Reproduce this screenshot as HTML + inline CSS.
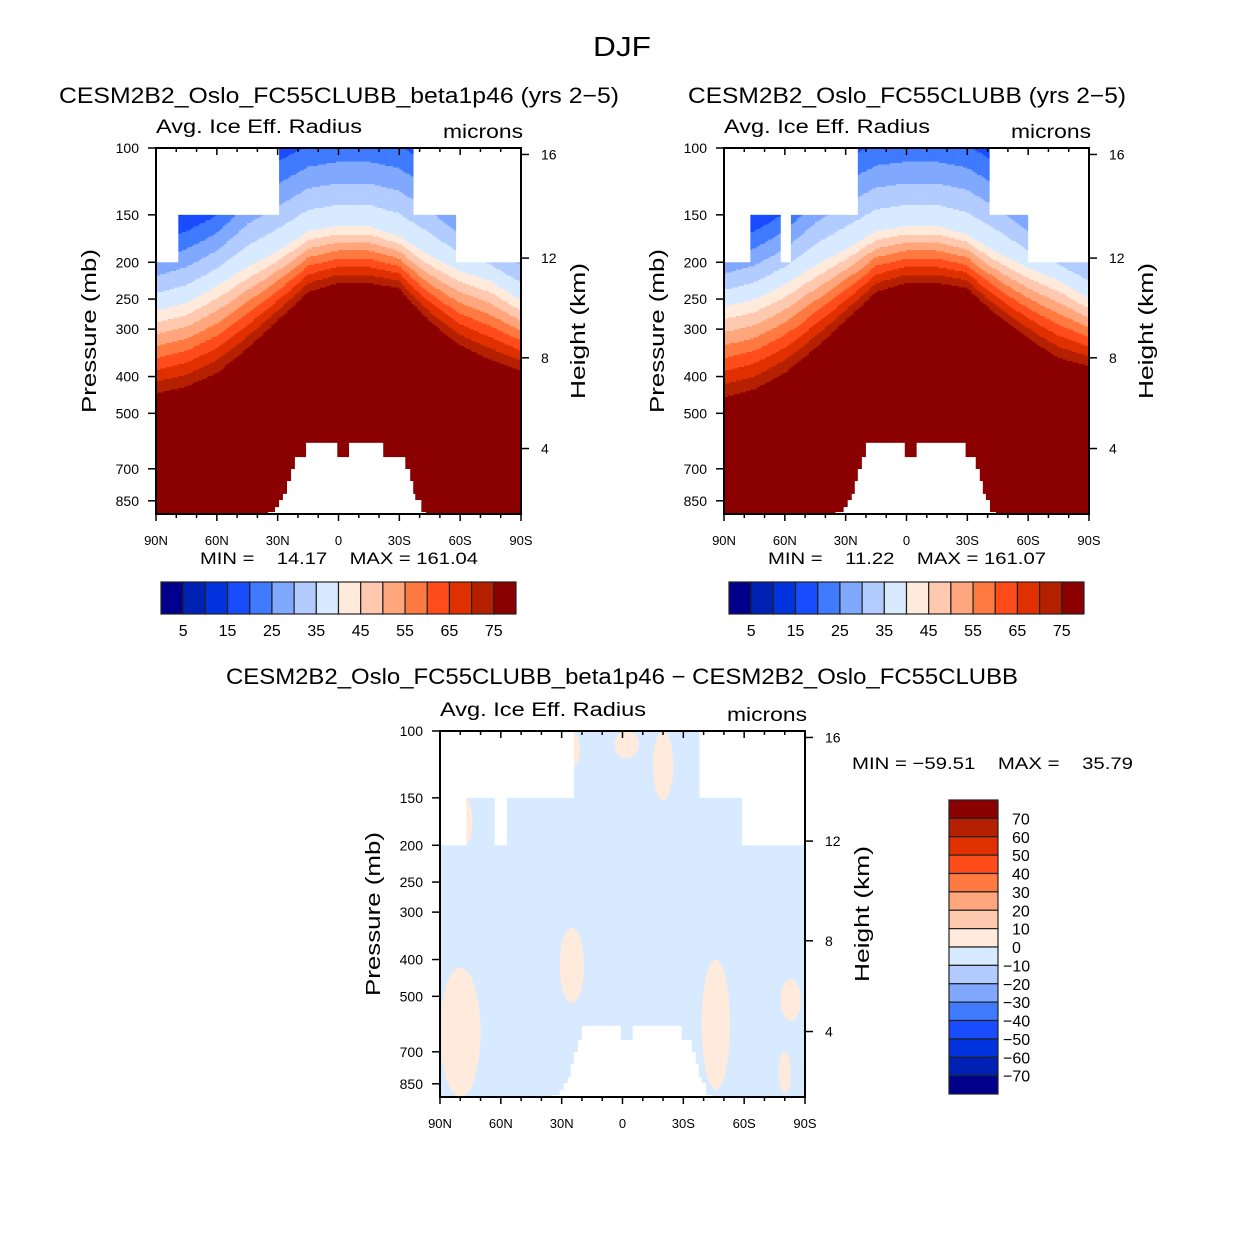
<!DOCTYPE html>
<html><head><meta charset="utf-8">
<style>
html,body{margin:0;padding:0;background:#fff;}
svg{display:block;font-family:"Liberation Sans",sans-serif;}
</style></head>
<body>
<svg id="fig" width="1246" height="1248" viewBox="0 0 1246 1248" xmlns="http://www.w3.org/2000/svg">
<rect width="1246" height="1248" fill="#fff"/>
<text x="622" y="56" font-size="28" text-anchor="middle" textLength="58" lengthAdjust="spacingAndGlyphs">DJF</text>
</svg>
<script>
// ---------- data ----------
const colors = ["#00008c","#0022b4","#0033dd","#1a4cff","#3f7aff","#80a8ff","#b3ccff","#d8eaff","#ffeadb","#ffc9b0","#ffa67c","#ff7a40","#ff4c1a","#e03000","#b52000","#8b0000"];
const levelLabels = [5,15,25,35,45,55,65,75];
const diffLabels = [70,60,50,40,30,20,10,0,-10,-20,-30,-40,-50,-60,-70];
const pTicks = [100,150,200,250,300,400,500,700,850];
const latTicks = [90,60,30,0,-30,-60,-90];
const latTickLabels = ["90N","60N","30N","0","30S","60S","90S"];
const heightTicks = [16,12,8,4];
const heightTickP = [104,195,357,619];

const profLats = [90,75,60,45,30,15,0,-15,-30,-45,-60,-75,-90];
// left panel (beta1p46)
const leftP20 = [175,165,150,122,108,98,95,95,98,110,135,150,162];
const leftP40 = [267,255,230,205,186,165,160,160,170,191,210,223,251];
const leftP80 = [475,455,421,360,301,251,237,237,244,301,351,385,408];
// right panel (control)
const rightP20 = [175,165,148,121,106,97,95,95,98,109,133,150,160];
const rightP40 = [260,250,228,203,184,165,160,160,168,188,206,222,248];
const rightP80 = [489,465,421,360,301,251,237,237,244,290,335,380,396];
// missing-data masks aloft: [north lat, south lat, pressure limit]
const leftMaskN = [90,90,-37,-58], leftMaskS = [29.3,79,-90,-90], leftMaskP = [150,200,150,200];
const rightMaskN = [90,90,62,-41,-60], rightMaskS = [24,77,57,-90,-90], rightMaskP = [150,200,200,150,200];
const diffMaskN = [90,90,63,-38,-59], diffMaskS = [24,77,57,-90,-90], diffMaskP = [150,200,200,150,200];
// surface (terrain) segments: north lat, south lat, surface pressure
const leftSurfN = [34.8,31.3,29.3,27.4,25.4,23.4,21.5,16,0.75,-5.2,-21.9,-32.8,-35.2,-36.7,-37.7,-40.7];
const leftSurfS = [31.3,29.3,27.4,25.4,23.4,21.5,16,0.75,-5.2,-21.9,-32.8,-35.2,-36.7,-37.7,-40.7,-43];
const leftSurfP = [910,883,846,815,754,701,652,598,652,598,652,701,754,815,846,910];
const rightSurfN = [35,31,29,27,25.5,24,22,20,1,-5,-29,-34,-36,-37.5,-39,-41];
const rightSurfS = [31,29,27,25.5,24,22,20,1,-5,-29,-34,-36,-37.5,-39,-41,-44];
const rightSurfP = [910,883,846,815,754,701,652,598,652,598,652,701,754,815,846,910];
// difference panel: positive (cream) patches
const patchLat = [80,25,15,25,-20,-46,-83,-80,78,-2];
const patchHalfW = [10,6,4,4,5,7,5,3,4,6];
const patchPtop = [420,330,600,100,100,400,450,700,150,100];
const patchPbot = [920,520,650,125,152,880,580,900,200,118];

// ---------- helpers ----------
const NS="http://www.w3.org/2000/svg";
const svg=document.getElementById('fig');
function mk(tag,attrs,parent){const e=document.createElementNS(NS,tag);for(const k in attrs)e.setAttribute(k,attrs[k]);(parent||svg).appendChild(e);return e;}
function txt(s,attrs,parent){const e=mk('text',attrs,parent);e.textContent=s;return e;}
function interp(xs,ys,x){for(let i=0;i<xs.length-1;i++){const a=xs[i],b=xs[i+1];if((x<=a&&x>=b)){const t=(a-x)/(a-b);return ys[i]+(ys[i+1]-ys[i])*t;}}return x>xs[0]?ys[0]:ys[ys.length-1];}
const W=365,H=366,K=379.6;

function panel(ox,oy,cfg){
  const g=mk('g',{});
  
  
  const xL=lat=>ox+(90-lat)/180*W;
  const yP=p=>oy+K*Math.log10(p/100);
  const clipId='clip'+cfg.name;
  const cp=mk('clipPath',{id:clipId},g);mk('rect',{x:ox,y:oy,width:W,height:H},cp);
  const field=mk('g',{'clip-path':'url(#'+clipId+')'},g);
  
  
  if(cfg.p20){
    for(let lat=90;lat>-90;lat-=1){
      const lc=lat-0.5;
      const y20=yP(interp(profLats,cfg.p20,lc)),y40=yP(interp(profLats,cfg.p40,lc)),y80=yP(interp(profLats,cfg.p80,lc));
      const val=y=>y<y40?40-20*(y40-y)/(y40-y20):40+40*(y-y40)/(y80-y40);
      let runStart=oy,runIdx=-1;
      for(let y=oy;y<=oy+H+2;y+=1.5){
        const idx=Math.max(0,Math.min(15,Math.floor(val(y)/5)));
        if(idx!==runIdx){
          if(runIdx>=0){const r=mk('rect',{x:xL(lat)-0.2,y:runStart,width:W/180+0.4,height:y-runStart+0.5,fill:colors[runIdx]},field);}
          runStart=y;runIdx=idx;
        }
      }
      const r=mk('rect',{x:xL(lat)-0.2,y:runStart,width:W/180+0.4,height:oy+H-runStart+2,fill:colors[runIdx]},field);
      
    }
  } else {
    mk('rect',{x:ox,y:oy,width:W,height:H,fill:colors[7]},field);
    for(let i=0;i<patchLat.length;i++){
      const yt=yP(patchPtop[i]),yb=yP(patchPbot[i]);
      const e=mk('ellipse',{cx:xL(patchLat[i]),cy:(yt+yb)/2,rx:patchHalfW[i]*W/180,ry:(yb-yt)/2,fill:colors[8]},field);
      
    }
  }
  for(let i=0;i<cfg.maskN.length;i++){
    const r=mk('rect',{x:xL(cfg.maskN[i]),y:oy,width:xL(cfg.maskS[i])-xL(cfg.maskN[i]),height:yP(cfg.maskP[i])-oy,fill:'#fff'},field);
    
  }
  for(let i=0;i<cfg.surfN.length;i++){
    const r=mk('rect',{x:xL(cfg.surfN[i]),y:yP(cfg.surfP[i]),width:xL(cfg.surfS[i])-xL(cfg.surfN[i])+0.3,height:oy+H-yP(cfg.surfP[i])+2,fill:'#fff'},field);
    
  }
  const fr=mk('rect',{x:ox,y:oy,width:W,height:H,fill:'none',stroke:'#000','stroke-width':2},g);
  
  pTicks.forEach(p=>{const y=yP(p);mk('line',{x1:ox-8,x2:ox,y1:y,y2:y,stroke:'#000','stroke-width':1.5},g);
    const t=txt(String(p),{x:ox-17,y:y+5,'font-size':14,'text-anchor':'end'},g);});
  heightTicks.forEach((h,i)=>{const y=yP(heightTickP[i]);mk('line',{x1:ox+W,x2:ox+W+8,y1:y,y2:y,stroke:'#000','stroke-width':1.5},g);
    const t=txt(String(h),{x:ox+W+20,y:y+5,'font-size':14},g);});
  for(let lat=90;lat>=-90;lat-=10){const x=xL(lat);const major=lat%30===0;
    mk('line',{x1:x,x2:x,y1:oy+H,y2:oy+H+(major?7:4),stroke:'#000','stroke-width':1.5},g);
    mk('line',{x1:x,x2:x,y1:oy,y2:oy+(major?7:4),stroke:'#000','stroke-width':1.5},g);}
  latTicks.forEach((lat,i)=>{const t=txt(latTickLabels[i],{x:xL(lat),y:oy+H+31,'font-size':13,'text-anchor':'middle'},g);});
  let t=txt('Avg. Ice Eff. Radius',{x:ox,y:oy-15,'font-size':19,textLength:206,lengthAdjust:'spacingAndGlyphs'},g);
  t=txt('microns',{x:ox+W+2,y:oy-10,'font-size':19,'text-anchor':'end',textLength:80,lengthAdjust:'spacingAndGlyphs'},g);
  t=txt('Pressure (mb)',{x:0,y:0,'font-size':20,'text-anchor':'middle',textLength:164,lengthAdjust:'spacingAndGlyphs',transform:`translate(${ox-60},${oy+183}) rotate(-90)`},g);
  t=txt('Height (km)',{x:0,y:0,'font-size':20,'text-anchor':'middle',textLength:136,lengthAdjust:'spacingAndGlyphs',transform:`translate(${ox+W+64},${oy+183}) rotate(-90)`},g);
  return g;
}

function hbar(x0,y0,name){
  const g=mk('g',{});
  const bw=355/16;
  colors.forEach((c,i)=>{const r=mk('rect',{x:x0+i*bw,y:y0,width:bw,height:32,fill:c,stroke:'#222','stroke-width':1.2},g);});
  levelLabels.forEach((v,i)=>{const t=txt(String(v),{x:x0+(2*i+1)*bw,y:y0+54,'font-size':16,'text-anchor':'middle'},g);});
}

function title(s,x,y,w,name){const t=txt(s,{x:x,y:y,'font-size':22,'text-anchor':'middle',textLength:w,lengthAdjust:'spacingAndGlyphs'});}

title('CESM2B2_Oslo_FC55CLUBB_beta1p46 (yrs 2\u22125)',339,103,560,'left-panel-title');
title('CESM2B2_Oslo_FC55CLUBB (yrs 2\u22125)',907,103,438,'right-panel-title');
title('CESM2B2_Oslo_FC55CLUBB_beta1p46 \u2212 CESM2B2_Oslo_FC55CLUBB',622,684,792,'difference-panel-title');

panel(156,148,{name:'left-panel',p20:leftP20,p40:leftP40,p80:leftP80,maskN:leftMaskN,maskS:leftMaskS,maskP:leftMaskP,surfN:leftSurfN,surfS:leftSurfS,surfP:leftSurfP});
panel(724,148,{name:'right-panel',p20:rightP20,p40:rightP40,p80:rightP80,maskN:rightMaskN,maskS:rightMaskS,maskP:rightMaskP,surfN:rightSurfN,surfS:rightSurfS,surfP:rightSurfP});
panel(440,731,{name:'difference-panel',maskN:diffMaskN,maskS:diffMaskS,maskP:diffMaskP,surfN:rightSurfN,surfS:rightSurfS,surfP:rightSurfP});

function label(s,x,y,w,anchor,name){
  const t=txt(s,{x:x,y:y,'font-size':17,'text-anchor':anchor,style:'white-space:pre',textLength:w,lengthAdjust:'spacingAndGlyphs'});
  
}
label('MIN =    14.17    MAX = 161.04',339,564,278,'middle','left-min-max');
label('MIN =    11.22    MAX = 161.07',907,564,278,'middle','right-min-max');
label('MIN = \u221259.51    MAX =    35.79',852,769,281,'start','difference-min-max');

hbar(161,582,'left-colorbar');
hbar(729,582,'right-colorbar');

const vb=mk('g',{});
const bh=294/16;
colors.slice().reverse().forEach((c,i)=>{const r=mk('rect',{x:949,y:800+i*bh,width:49,height:bh,fill:c,stroke:'#222','stroke-width':1.2},vb);});
diffLabels.forEach((v,i)=>{const t=txt(v<0?'\u2212'+(-v):String(v),{x:v<0?1003:1012,y:800+(i+1)*bh+6,'font-size':16},vb);});
</script>
</body></html>
